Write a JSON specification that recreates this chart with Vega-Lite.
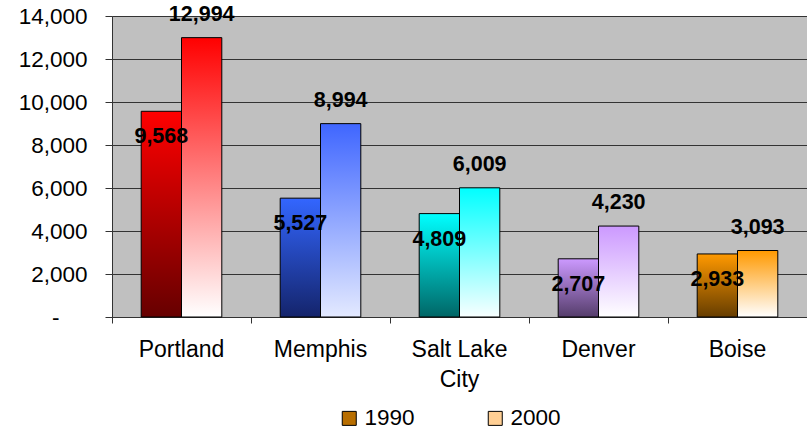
{
  "$schema": "https://vega.github.io/schema/vega-lite/v6.json",
  "width": 695,
  "height": 301,
  "autosize": {"type": "none"},
  "padding": {"left": 112, "top": 16, "right": 0, "bottom": 114},
  "background": "white",
  "config": {
    "font": "Liberation Sans",
    "view": {"fill": "#C0C0C0", "stroke": null}
  },
  "data": {
    "values": [
      {"city": "Portland", "year": "1990", "value": 9568, "key": "Portland 1990"},
      {"city": "Portland", "year": "2000", "value": 12994, "key": "Portland 2000"},
      {"city": "Memphis", "year": "1990", "value": 5527, "key": "Memphis 1990"},
      {"city": "Memphis", "year": "2000", "value": 8994, "key": "Memphis 2000"},
      {"city": "Salt Lake City", "year": "1990", "value": 4809, "key": "Salt Lake City 1990"},
      {"city": "Salt Lake City", "year": "2000", "value": 6009, "key": "Salt Lake City 2000"},
      {"city": "Denver", "year": "1990", "value": 2707, "key": "Denver 1990"},
      {"city": "Denver", "year": "2000", "value": 4230, "key": "Denver 2000"},
      {"city": "Boise", "year": "1990", "value": 2933, "key": "Boise 1990"},
      {"city": "Boise", "year": "2000", "value": 3093, "key": "Boise 2000"}
    ]
  },
  "encoding": {
    "x": {
      "field": "city",
      "type": "nominal",
      "sort": ["Portland", "Memphis", "Salt Lake City", "Denver", "Boise"],
      "scale": {"paddingInner": 0.42, "paddingOuter": 0.21},
      "axis": {
        "title": null,
        "labelAngle": 0,
        "bandPosition": -0.362,
        "labelFontSize": 23,
        "labelColor": "black",
        "labelPadding": 15,
        "labelLineHeight": 30,
        "labelExpr": "datum.label == 'Salt Lake City' ? ['Salt Lake', 'City'] : datum.label",
        "tickSize": 6,
        "tickColor": "#333333",
        "domainColor": "#333333",
        "grid": false
      }
    },
    "xOffset": {"field": "year", "type": "nominal", "scale": {"paddingInner": 0, "paddingOuter": 0}},
    "y": {
      "field": "value",
      "type": "quantitative",
      "scale": {"domain": [0, 14000], "nice": false},
      "axis": {
        "title": null,
        "values": [0, 2000, 4000, 6000, 8000, 10000, 12000, 14000],
        "labelExpr": "datum.value == 0 ? '-' : format(datum.value, ',')",
        "labelFontSize": 22.5,
        "labelColor": "black",
        "labelPadding": {"condition": {"test": "datum.value == 0", "value": 46}, "value": 18},
        "tickSize": 7,
        "tickColor": "#333333",
        "domainColor": "#333333",
        "grid": true,
        "gridColor": "#333333",
        "gridWidth": 1.2,
        "gridOpacity": 1
      }
    }
  },
  "layer": [
    {
      "mark": {"type": "bar", "stroke": "black", "strokeWidth": 1},
      "encoding": {
        "fill": {
          "condition": [
            {"test": "datum.key == 'Portland 1990'", "value": {"gradient": "linear", "x1": 0, "y1": 1, "x2": 0, "y2": 0, "stops": [{"offset": 0, "color": "#660000"}, {"offset": 1, "color": "#FF0000"}]}},
            {"test": "datum.key == 'Portland 2000'", "value": {"gradient": "linear", "x1": 0, "y1": 0, "x2": 0, "y2": 1, "stops": [{"offset": 0, "color": "#FF0000"}, {"offset": 1, "color": "#FFFFFF"}]}},
            {"test": "datum.key == 'Memphis 1990'", "value": {"gradient": "linear", "x1": 0, "y1": 1, "x2": 0, "y2": 0, "stops": [{"offset": 0, "color": "#14246B"}, {"offset": 1, "color": "#3366FF"}]}},
            {"test": "datum.key == 'Memphis 2000'", "value": {"gradient": "linear", "x1": 0, "y1": 0, "x2": 0, "y2": 1, "stops": [{"offset": 0, "color": "#3F66FF"}, {"offset": 1, "color": "#E3E9FF"}]}},
            {"test": "datum.key == 'Salt Lake City 1990'", "value": {"gradient": "linear", "x1": 0, "y1": 1, "x2": 0, "y2": 0, "stops": [{"offset": 0, "color": "#006666"}, {"offset": 1, "color": "#00FFFF"}]}},
            {"test": "datum.key == 'Salt Lake City 2000'", "value": {"gradient": "linear", "x1": 0, "y1": 0, "x2": 0, "y2": 1, "stops": [{"offset": 0, "color": "#00FFFF"}, {"offset": 1, "color": "#F8FFFF"}]}},
            {"test": "datum.key == 'Denver 1990'", "value": {"gradient": "linear", "x1": 0, "y1": 1, "x2": 0, "y2": 0, "stops": [{"offset": 0, "color": "#553D6B"}, {"offset": 1, "color": "#CC99FF"}]}},
            {"test": "datum.key == 'Denver 2000'", "value": {"gradient": "linear", "x1": 0, "y1": 0, "x2": 0, "y2": 1, "stops": [{"offset": 0, "color": "#CC99FF"}, {"offset": 1, "color": "#FFFFFF"}]}},
            {"test": "datum.key == 'Boise 1990'", "value": {"gradient": "linear", "x1": 0, "y1": 1, "x2": 0, "y2": 0, "stops": [{"offset": 0, "color": "#663D00"}, {"offset": 1, "color": "#FF9900"}]}}
          ],
          "value": {"gradient": "linear", "x1": 0, "y1": 0, "x2": 0, "y2": 1, "stops": [{"offset": 0, "color": "#FF9900"}, {"offset": 1, "color": "#FFFFFF"}]}
        }
      }
    },
    {
      "transform": [{"filter": "datum.year == '1990'"}],
      "mark": {"type": "text", "fontWeight": "bold", "fontSize": 21.5, "color": "black", "baseline": "middle", "dy": 26},
      "encoding": {"text": {"field": "value", "type": "quantitative", "format": ","}}
    },
    {
      "transform": [{"filter": "datum.year == '2000'"}],
      "mark": {"type": "text", "fontWeight": "bold", "fontSize": 21.5, "color": "black", "baseline": "middle", "dy": -23},
      "encoding": {"text": {"field": "value", "type": "quantitative", "format": ","}}
    },
    {
      "transform": [{"filter": "datum.value < 0"}],
      "mark": {"type": "square", "filled": true, "stroke": "black", "strokeWidth": 1},
      "encoding": {
        "fill": {
          "field": "year",
          "type": "nominal",
          "scale": {"domain": ["1990", "2000"], "range": ["#B86E00", "#FFCF94"]},
          "legend": {
            "title": null,
            "orient": "none",
            "legendX": 226,
            "legendY": 391,
            "direction": "horizontal",
            "symbolType": "square",
            "symbolSize": 196,
            "symbolStrokeColor": "black",
            "symbolStrokeWidth": 1,
            "symbolOpacity": 1,
            "labelFontSize": 22.5,
            "labelColor": "black",
            "labelOffset": 4,
            "columnPadding": 69
          }
        }
      }
    }
  ]
}
